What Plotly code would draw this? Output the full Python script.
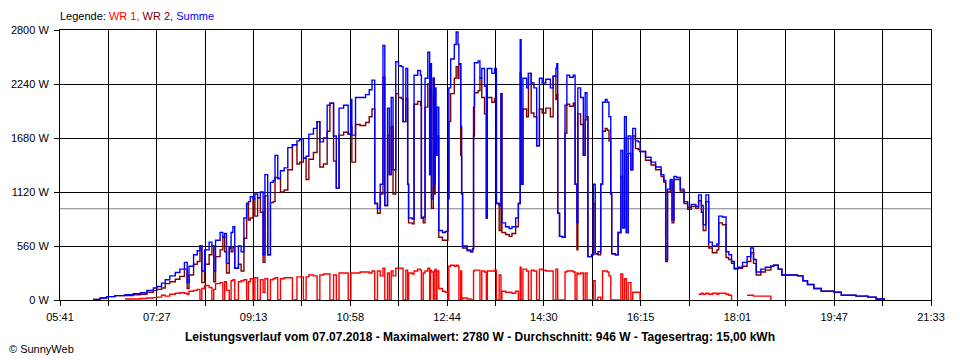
import plotly.graph_objects as go
from datetime import datetime

DAY = "2018-07-07"

times = [
    "06:17","06:25","06:32","06:41","06:52","07:01","07:09","07:16","07:23","07:27",
    "07:32","07:36","07:41","07:47","07:52","07:57","08:00","08:02","08:07","08:11",
    "08:14","08:16","08:19","08:24","08:27","08:29","08:31","08:36","08:39","08:41",
    "08:43","08:46","08:48","08:50","08:52","08:56","08:59","09:02","09:05","09:07",
    "09:09","09:12","09:14","09:17","09:20","09:23","09:25","09:28","09:31","09:34",
    "09:36","09:39","09:42","09:46","09:50","09:55","10:00","10:03","10:07","10:10",
    "10:13","10:18","10:22","10:25","10:29","10:33","10:36","10:40","10:43","10:46",
    "10:51","10:56","10:59","11:00","11:04","11:09","11:15","11:19","11:22","11:25",
    "11:28","11:31","11:34","11:36","11:39","11:41","11:43","11:45","11:48","11:51",
    "11:54","11:56","11:59","12:01","12:02","12:06","12:08","12:12","12:15","12:16",
    "12:18","12:20","12:23","12:25","12:26","12:27","12:29","12:30","12:31","12:32",
    "12:33","12:35","12:39","12:42","12:45","12:46","12:48","12:52","12:54","12:56",
    "12:57","12:59","13:00","13:01","13:06","13:10","13:12","13:13","13:14","13:18",
    "13:20","13:22","13:25","13:27","13:28","13:33","13:36","13:38","13:41","13:43",
    "13:44","13:48","13:52","13:55","13:59","14:02","14:04","14:05","14:07","14:11",
    "14:13","14:16","14:19","14:22","14:25","14:28","14:32","14:37","14:40","14:43",
    "14:44","14:45","14:47","14:50","14:53","14:55","14:58","15:02","15:04","15:06",
    "15:07","15:10","15:13","15:15","15:17","15:18","15:22","15:24","15:26","15:29",
    "15:32","15:34","15:37","15:39","15:41","15:43","15:44","15:48","15:51","15:54",
    "15:56","15:58","16:00","16:02","16:05","16:07","16:10","16:13","16:15","16:21",
    "16:27","16:32","16:38","16:41","16:43","16:45","16:48","16:50","16:52","16:55",
    "16:59","17:03","17:07","17:11","17:16","17:19","17:22","17:24","17:27","17:30",
    "17:34","17:39","17:41","17:45","17:49","17:52","17:55","17:58","18:02","18:07",
    "18:12","18:16","18:19","18:22","18:27","18:32","18:38","18:41","18:46","18:50",
    "19:00","19:07","19:13","19:18","19:25","19:33","19:47","19:55","20:02","20:11",
    "20:24","20:33","20:42",
]

summe = [
    5, 20, 35, 45, 55, 65, 75, 100, 125, 140,
    175, 210, 250, 285, 320, 390, 180, 350, 470, 510,
    560, 300, 520, 600, 560, 300, 620, 700, 650, 690,
    380, 540, 700, 760, 330, 560, 500, 850, 1000, 1020,
    1070, 1050, 1100, 1060, 1120, 470, 1300, 470, 1220, 1240,
    1500, 1260, 1340, 1370, 1580, 1610, 1650, 1670, 1470, 1490,
    1720, 1780, 1850, 1640, 1680, 2020, 2040, 1700, 1160, 1990,
    2020, 1720, 2080, 1710, 2100, 2100, 2130, 2180, 2280, 1000,
    950, 1200, 2640, 980, 1990, 1300, 2100, 1350, 2470, 2430,
    2420, 1850, 2400, 1200, 850, 840, 2330, 2380, 2330, 850,
    860, 2300, 2570, 1300, 2450, 1050, 2300, 1200, 2200, 1500,
    2000, 720, 700, 710, 1050, 2200, 2500, 2650, 2780, 2650,
    2450, 1800, 1100, 560, 520, 500, 530, 2000, 2460, 2480,
    2300, 2400, 2220, 850, 2400, 2350, 2400, 1000, 980, 2140,
    800, 760, 740, 760, 850, 1000, 2700, 1200, 2300, 2200,
    2350, 2250, 2200, 1600, 2300, 2250, 2290, 2200, 2320, 2400,
    2450, 900, 660, 650, 2020, 2330, 2310, 2330, 1200, 800,
    2200, 2100, 1500, 2150, 1900, 450, 470, 1200, 480, 500,
    1200, 2050, 2080, 2050, 1900, 1100, 480, 470, 700, 1550,
    750, 1900, 700, 1700, 1350, 1780, 1650, 1640, 1540, 1480,
    1430, 1380, 1300, 1240, 420, 1150, 1250, 830, 1280, 1270,
    1150, 1020, 960, 990, 970, 1090, 980, 780, 1090, 600,
    560, 580, 870, 860, 500, 470, 400, 330, 340, 390,
    450, 540, 420, 290, 320, 340, 350, 360, 320, 260,
    260, 250, 200, 160, 120, 90, 80, 50, 50, 40,
    30, 10, 0,
]

wr1 = [
    None, None, None, None, 10, 10, 15, 20, 25, 30,
    50, 40, 60, 70, 75, 70, 60, 90, 100, 110,
    0, 120, 150, 130, 0, 110, 170, 180, 0, 190,
    100, 0, 200, 210, 0, 190, 200, 210, 0, 190,
    220, 0, 230, 0, 210, 80, 220, 0, 210, 220,
    230, 0, 220, 230, 230, 0, 240, 240, 0, 240,
    260, 250, 0, 260, 270, 270, 0, 260, 0, 280,
    280, 0, 280, 280, 280, 290, 290, 280, 300, 0,
    300, 250, 330, 0, 280, 0, 300, 250, 330, 330,
    330, 0, 310, 0, 280, 270, 300, 320, 310, 0,
    280, 300, 330, 0, 310, 290, 0, 300, 320, 0,
    300, 120, 90, 80, 0, 350, 360, 350, 360, 350,
    0, 300, 0, 20, 10, 0, 0, 300, 310, 310,
    0, 300, 290, 0, 300, 300, 310, 0, 260, 0,
    90, 80, 80, 70, 90, 0, 340, 0, 320, 300,
    0, 310, 300, 0, 320, 310, 300, 300, 0, 320,
    320, 0, 0, 0, 290, 300, 300, 290, 0, 280,
    270, 280, 0, 280, 0, 0, 0, 200, 0, 30,
    0, 300, 300, 290, 250, 0, 0, 0, 0, 270,
    0, 220, 0, 180, 0, 80, 80, 80, 0, None,
    None, None, None, None, None, None, None, None, None, None,
    None, None, None, None, None, 60, 70, 60, 70, 60,
    70, 60, 70, 70, 60, 50, 0, None, None, None,
    50, 50, 40, 40, 40, 40, 0, None, None, None,
    None, None, None, None, None, None, None, None, None, None,
    None, None, None,
]

wr2 = [
    5, 20, 35, 45, 45, 55, 60, 80, 100, 110,
    125, 170, 190, 215, 245, 320, 120, 260, 370, 400,
    560, 180, 370, 470, 560, 190, 450, 520, 650, 500,
    280, 540, 500, 550, 330, 370, 300, 640, 1000, 830,
    850, 1050, 870, 1060, 910, 390, 1080, 470, 1010, 1020,
    1270, 1260, 1120, 1140, 1350, 1610, 1410, 1430, 1470, 1250,
    1460, 1530, 1850, 1380, 1410, 1750, 2040, 1440, 1160, 1710,
    1740, 1720, 1800, 1430, 1820, 1810, 1840, 1900, 1980, 1000,
    900, 1100, 2310, 980, 1710, 1300, 1800, 1100, 2140, 2100,
    2090, 1850, 2090, 1200, 800, 790, 2030, 2060, 2020, 850,
    800, 2000, 2240, 1300, 2140, 950, 2300, 1100, 1880, 1500,
    1700, 650, 620, 620, 1050, 1850, 2140, 2300, 2420, 2300,
    2450, 1500, 1100, 540, 510, 500, 530, 1700, 2150, 2170,
    2300, 2100, 1930, 850, 2100, 2050, 2090, 1000, 720, 2140,
    700, 680, 660, 690, 760, 1000, 2360, 1200, 1980, 1900,
    2350, 1940, 1900, 1600, 1980, 1940, 1990, 1900, 2320, 2080,
    2130, 900, 660, 650, 1730, 2030, 2010, 2040, 1200, 520,
    1930, 1820, 1500, 1870, 1900, 450, 470, 1000, 480, 470,
    1200, 1750, 1780, 1760, 1650, 1100, 480, 470, 700, 1280,
    750, 1680, 700, 1520, 1350, 1700, 1570, 1560, 1540, 1450,
    1400, 1350, 1280, 1220, 400, 1120, 1230, 800, 1250, 1250,
    1130, 1000, 940, 970, 950, 1030, 910, 720, 1020, 540,
    490, 520, 800, 780, 440, 420, 380, 320, 330, 350,
    400, 490, 380, 260, 290, 310, 350, 360, 320, 260,
    260, 250, 200, 160, 120, 90, 80, 50, 50, 40,
    30, 10, 0,
]

tick_labels = ["05:41", "07:27", "09:13", "10:58", "12:44", "14:30",
               "16:15", "18:01", "19:47", "21:33"]
y_ticks = [0, 560, 1120, 1680, 2240, 2800]
average_w = 946
title_text = ("Leistungsverlauf vom 07.07.2018 - Maximalwert: 2780 W - "
              "Durchschnitt: 946 W - Tagesertrag: 15,00 kWh")


def ts(hm):
    return datetime.strptime(f"{DAY} {hm}", "%Y-%m-%d %H:%M")


x = [ts(t) for t in times]
t0, t1 = ts(tick_labels[0]), ts(tick_labels[-1])
n = 2 * (len(tick_labels) - 1)
step = (t1 - t0) / n
grid_vals = [t0 + i * step for i in range(n + 1)]
grid_text = [tick_labels[i // 2] if i % 2 == 0 else "" for i in range(n + 1)]

FONT = "Liberation Sans"
PW, PH = 871, 270  # plot area size in px

fig = go.Figure()
fig.add_trace(go.Scatter(x=x, y=wr1, mode="lines", line=dict(color="#FF0000", width=1.4, shape="hv"),
                         connectgaps=False, name="WR 1"))
fig.add_trace(go.Scatter(x=x, y=wr2, mode="lines", line=dict(color="#800000", width=1.4, shape="hv"),
                         connectgaps=False, name="WR 2"))
fig.add_trace(go.Scatter(x=x, y=summe, mode="lines", line=dict(color="#0000FF", width=1.4, shape="hv"),
                         connectgaps=False, name="Summe"))

fig.add_shape(type="line", xref="paper", x0=0, x1=1, yref="y", y0=average_w, y1=average_w,
              line=dict(color="#808080", width=1), layer="between")

fig.update_xaxes(type="date", range=[t0, t1], tickmode="array", tickvals=grid_vals, ticktext=grid_text,
                 showgrid=True, gridcolor="#000000", gridwidth=1, automargin=False,
                 showline=True, linecolor="#000000", linewidth=1, mirror=True,
                 ticks="outside", ticklen=5, tickcolor="#000000", ticklabelstandoff=2,
                 tickfont=dict(family=FONT, size=11, color="#000000"), zeroline=False, fixedrange=True)
fig.update_yaxes(range=[0, 2800], tickmode="array", tickvals=y_ticks,
                 ticktext=[f"{v} W" for v in y_ticks],
                 showgrid=True, gridcolor="#000000", gridwidth=1, automargin=False,
                 showline=True, linecolor="#000000", linewidth=1, mirror=True,
                 ticks="outside", ticklen=5, tickcolor="#000000", ticklabelstandoff=3,
                 tickfont=dict(family=FONT, size=11, color="#000000"), zeroline=False, fixedrange=True)

fig.add_annotation(xref="paper", yref="paper", x=-2 / PW, y=1 + 14 / PH, xanchor="left", yanchor="middle",
                   showarrow=False, font=dict(family=FONT, size=11, color="#000000"),
                   text=('Legende: <span style="color:#FF0000">WR 1,</span> '
                         '<span style="color:#800000">WR 2,</span> '
                         '<span style="color:#0000FF">Summe</span>'))
fig.add_annotation(xref="paper", yref="paper", x=(480 - 60) / PW, y=-37 / PH, xanchor="center",
                   yanchor="middle", showarrow=False,
                   font=dict(family=FONT, size=12, color="#000000", weight="bold"),
                   text=title_text)
fig.add_annotation(xref="paper", yref="paper", x=-53 / PW, y=-49 / PH, xanchor="left",
                   yanchor="middle", showarrow=False,
                   font=dict(family=FONT, size=11, color="#000000"), text="© SunnyWeb")

# page body has an 8px default margin, so the figure is 8px smaller and margins shifted
fig.update_layout(width=952, height=352, margin=dict(l=52, r=29, t=22, b=60),
                  paper_bgcolor="#FFFFFF", plot_bgcolor="#FFFFFF", showlegend=False)

fig.write_html("out.html", config={"displayModeBar": False})
